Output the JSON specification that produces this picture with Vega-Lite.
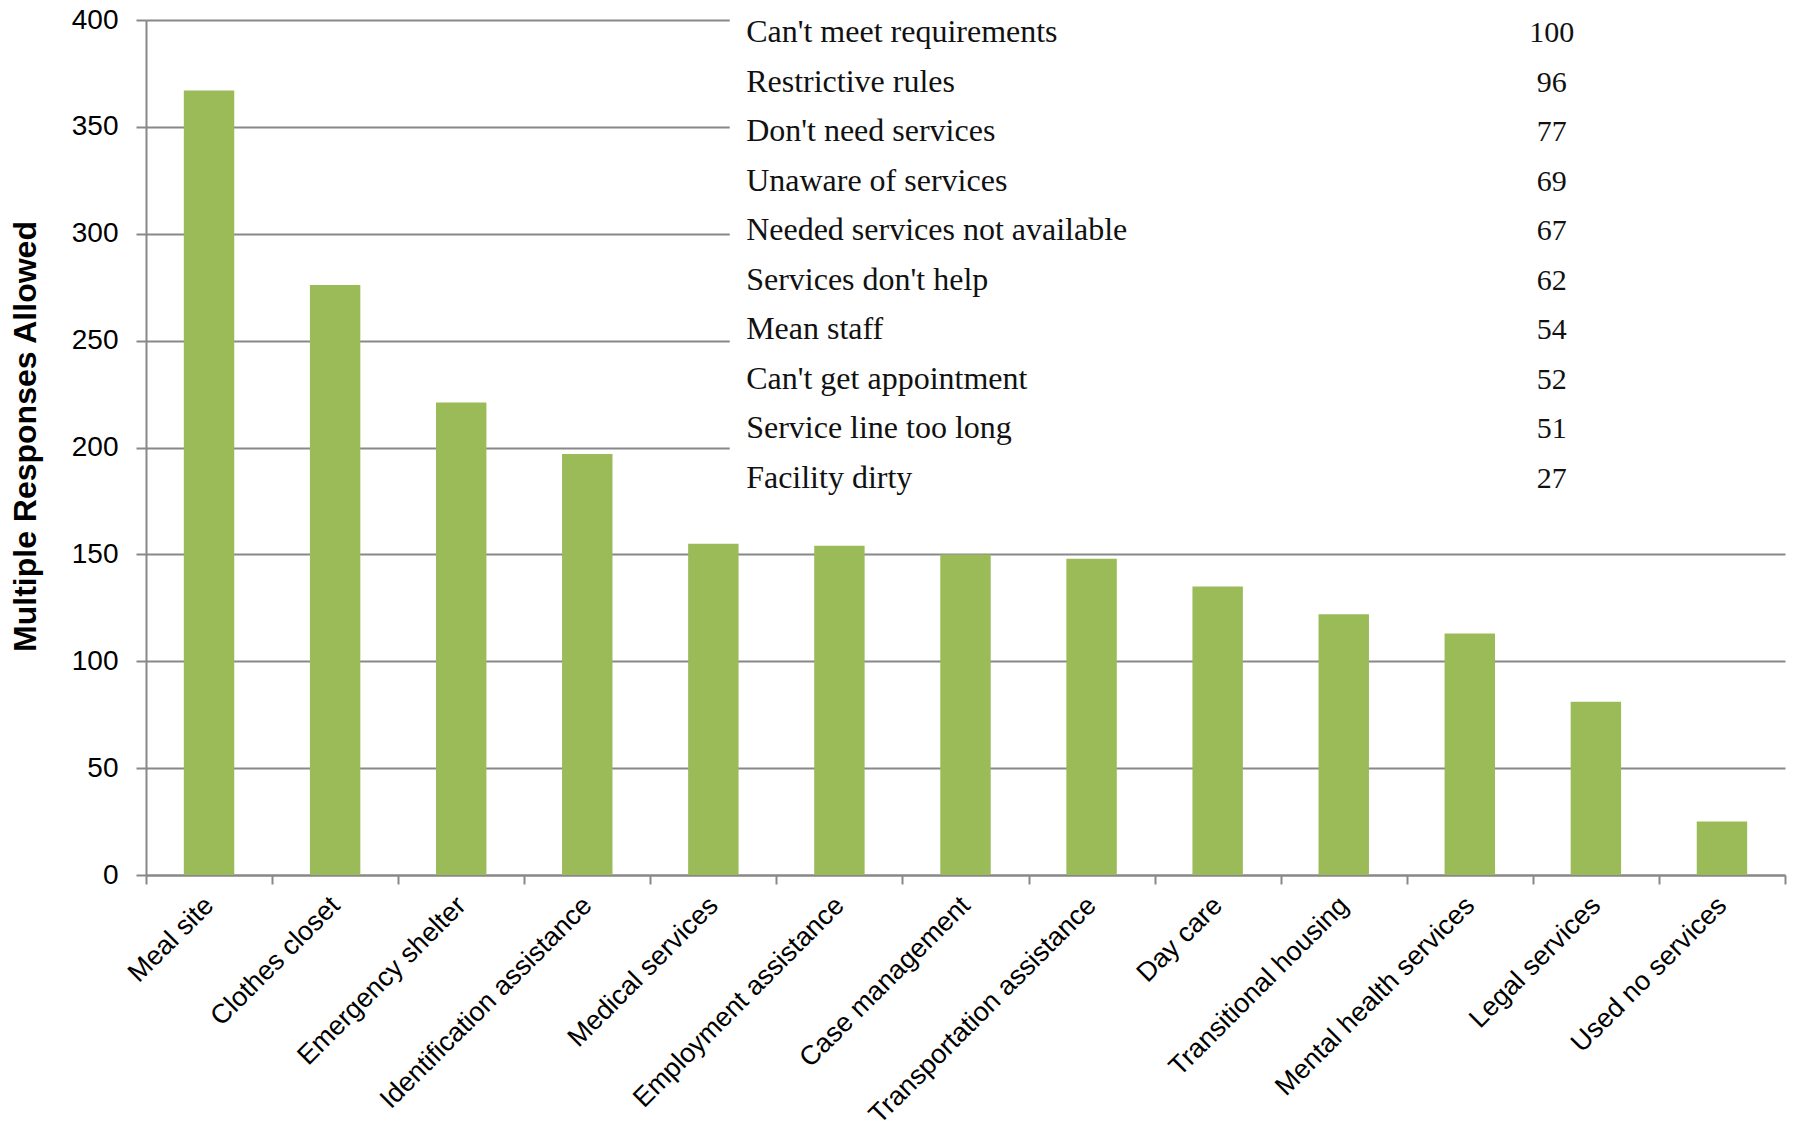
{
  "$schema": "https://vega.github.io/schema/vega-lite/v6.json",
  "autosize": {"type": "none"},
  "padding": {"left": 146, "top": 20, "right": 8, "bottom": 249},
  "width": 1639,
  "height": 855,
  "background": "white",
  "config": {
    "view": {"stroke": null},
    "font": "Liberation Sans"
  },
  "datasets": {
    "services": [
      {"service": "Meal site", "count": 367},
      {"service": "Clothes closet", "count": 276},
      {"service": "Emergency shelter", "count": 221},
      {"service": "Identification assistance", "count": 197},
      {"service": "Medical services", "count": 155},
      {"service": "Employment assistance", "count": 154},
      {"service": "Case management", "count": 150},
      {"service": "Transportation assistance", "count": 148},
      {"service": "Day care", "count": 135},
      {"service": "Transitional housing", "count": 122},
      {"service": "Mental health services", "count": 113},
      {"service": "Legal services", "count": 81},
      {"service": "Used no services", "count": 25}
    ],
    "reasons": [
      {"reason": "Can't meet requirements", "n": 100},
      {"reason": "Restrictive rules", "n": 96},
      {"reason": "Don't need services", "n": 77},
      {"reason": "Unaware of services", "n": 69},
      {"reason": "Needed services not available", "n": 67},
      {"reason": "Services don't help", "n": 62},
      {"reason": "Mean staff", "n": 54},
      {"reason": "Can't get appointment", "n": 52},
      {"reason": "Service line too long", "n": 51},
      {"reason": "Facility dirty", "n": 27}
    ]
  },
  "layer": [
    {
      "data": {"name": "services"},
      "mark": {"type": "bar", "color": "#9BBB59", "width": {"band": 0.4}},
      "encoding": {
        "x": {
          "field": "service",
          "type": "nominal",
          "sort": null,
          "scale": {"paddingInner": 0, "paddingOuter": 0},
          "axis": {
            "title": null,
            "labelAngle": -45,
            "labelAlign": "right",
            "labelBaseline": "middle",
            "labelFontSize": 27,
            "labelColor": "#000000",
            "labelPadding": 17,
            "labelOverlap": false,
            "labelLimit": 0,
            "tickBand": "extent",
            "tickSize": 9,
            "tickWidth": 2,
            "tickColor": "#888888",
            "domainColor": "#888888",
            "domainWidth": 2
          }
        },
        "y": {
          "field": "count",
          "type": "quantitative",
          "scale": {"domain": [0, 400], "nice": false},
          "axis": {
            "title": "Multiple Responses Allowed",
            "titleFontSize": 32,
            "titleFontWeight": "bold",
            "titleColor": "#000000",
            "titlePadding": 29,
            "titleY": 416,
            "values": [0, 50, 100, 150, 200, 250, 300, 350, 400],
            "labelFontSize": 28,
            "labelColor": "#000000",
            "labelPadding": 18,
            "tickSize": 10,
            "tickWidth": 2,
            "tickColor": "#888888",
            "domainColor": "#888888",
            "domainWidth": 2,
            "grid": true,
            "gridColor": "#888888",
            "gridWidth": 2
          }
        }
      }
    },
    {
      "data": {"values": [{"box": "table"}]},
      "mark": {"type": "rect", "color": "white"},
      "encoding": {
        "x": {"datum": 4.63, "type": "quantitative", "scale": {"domain": [0, 13], "nice": false}, "axis": null},
        "x2": {"datum": 13.2},
        "y": {"datum": 172, "type": "quantitative", "scale": {"domain": [0, 400], "nice": false}, "axis": null},
        "y2": {"datum": 420}
      }
    },
    {
      "data": {"name": "reasons"},
      "mark": {"type": "text", "align": "left", "baseline": "alphabetic", "font": "Liberation Serif", "fontSize": 32, "color": "#111111"},
      "encoding": {
        "x": {"datum": 4.76, "type": "quantitative", "scale": {"domain": [0, 13], "nice": false}, "axis": null},
        "y": {"field": "reason", "type": "ordinal", "sort": null, "scale": {"type": "point", "range": [22, 468], "padding": 0}, "axis": null},
        "text": {"field": "reason"}
      }
    },
    {
      "data": {"name": "reasons"},
      "mark": {"type": "text", "align": "center", "baseline": "alphabetic", "font": "Liberation Serif", "fontSize": 30, "color": "#111111"},
      "encoding": {
        "x": {"datum": 11.15, "type": "quantitative", "scale": {"domain": [0, 13], "nice": false}, "axis": null},
        "y": {"field": "reason", "type": "ordinal", "sort": null, "scale": {"type": "point", "range": [22, 468], "padding": 0}, "axis": null},
        "text": {"field": "n"}
      }
    }
  ],
  "resolve": {"scale": {"x": "independent", "y": "independent"}, "axis": {"x": "independent", "y": "independent"}}
}
